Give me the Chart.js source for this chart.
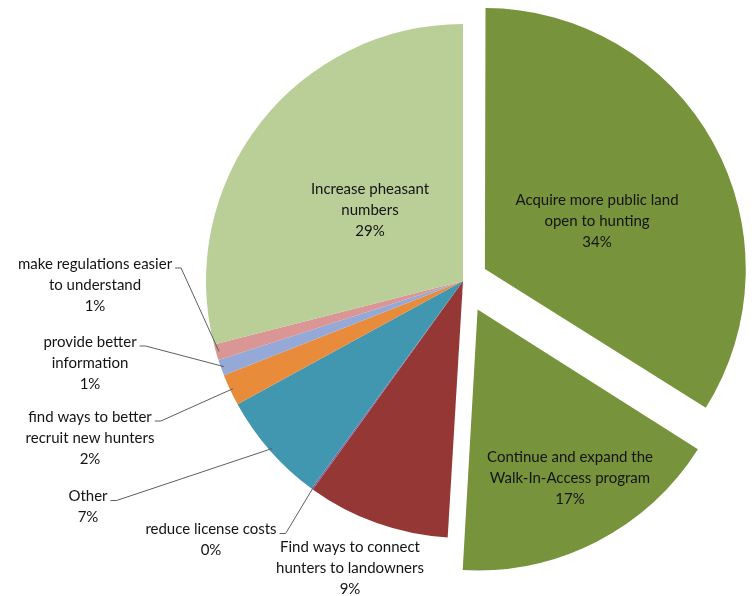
<html>
<head>
    <script src="https://cdn.jsdelivr.net/npm/chart.js@4.4.0/dist/chart.umd.min.js"></script>
    <style>
        body { margin: 0; background: #fff; }
    </style>
</head>

<body>
    <canvas id="myChart" width="755" height="596"></canvas>
    <script>
        // slices clockwise from 12 o'clock
        const categories = [
            ['Acquire more public land', 'open to hunting'],
            ['Continue and expand the', 'Walk-In-Access program'],
            ['Find ways to connect', 'hunters to landowners'],
            ['reduce license costs'],
            ['Other'],
            ['find ways to better', 'recruit new hunters'],
            ['provide better', 'information'],
            ['make regulations easier', 'to understand'],
            ['Increase pheasant', 'numbers']
        ]
        const values = [34, 17, 9, 0.1, 7, 2, 1, 1, 29]
        const colors = ['#77933c', '#77933c', '#953735', '#8064a2', '#4197b0', '#e88b3a', '#94a9d8', '#d99694', '#bace98']
        const explode = [100, 128, 0, 0, 0, 0, 0, 0, 0]

        // label block centre relative to pie centre, and whether it gets a leader line
        const labelAt = [[134, -60], [107, 197], [-113, 287], [-252, 259], [-375, 226], [-373, 157], [-373, 82], [-368, 4], [-93, -71]]
        const leader = [false, false, false, true, true, true, true, true, false]

        const sliceLabels = {
            id: 'sliceLabels',
            afterDatasetsDraw(chart) {
                const ctx = chart.ctx
                const meta = chart.getDatasetMeta(0)
                const total = values.reduce((a, b) => a + b, 0)
                const lh = 21
                ctx.save()
                ctx.font = '15px Lato'
                ctx.fillStyle = '#141414'
                ctx.strokeStyle = '#5e5e5e'
                ctx.lineWidth = 1
                ctx.textAlign = 'center'
                ctx.textBaseline = 'middle'
                meta.data.forEach((arc, i) => {
                    const { x, y, startAngle, endAngle, outerRadius } = arc.getProps(['x', 'y', 'startAngle', 'endAngle', 'outerRadius'], true)
                    const lines = categories[i].concat([Math.round(values[i] / total * 100) + '%'])
                    const cx = x + labelAt[i][0]
                    const cy = y + labelAt[i][1]
                    const top = cy - (lines.length - 1) * lh / 2
                    lines.forEach((t, k) => ctx.fillText(t, cx, top + k * lh))
                    if (leader[i]) {
                        const mid = (startAngle + endAngle) / 2
                        const ex = x + Math.cos(mid) * (outerRadius - 3)
                        const ey = y + Math.sin(mid) * (outerRadius - 3)
                        const w = ctx.measureText(lines[0]).width
                        const sx = cx + w / 2 + 3
                        const sy = top + 4
                        ctx.beginPath()
                        ctx.moveTo(sx, sy)
                        ctx.lineTo(sx + 6, sy)
                        ctx.lineTo(ex, ey)
                        ctx.stroke()
                    }
                })
                ctx.restore()
            }
        }

        const ctx = document.getElementById('myChart').getContext('2d')
        const myChart = new Chart(ctx, {
            type: 'pie',
            data: {
                labels: categories,
                datasets: [{
                    data: values,
                    backgroundColor: colors,
                    borderWidth: 0,
                    offset: explode
                }]
            },
            options: {
                responsive: false,
                animation: false,
                radius: 257,
                layout: { padding: { left: 200, right: 29, top: 0, bottom: 34 } },
                plugins: {
                    legend: { display: false },
                    tooltip: { enabled: false }
                }
            },
            plugins: [sliceLabels]
        })
    </script>
</body>

</html>
